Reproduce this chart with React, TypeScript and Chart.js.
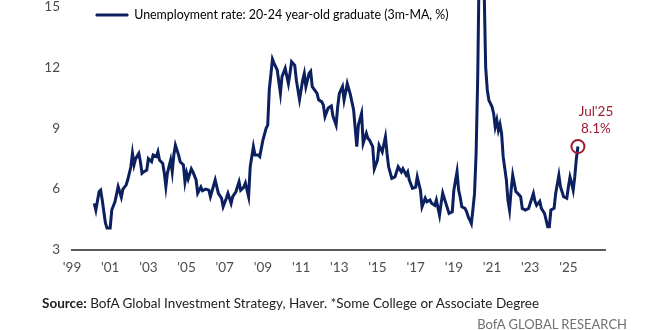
import React, { useEffect, useRef } from "react";
import { Chart, registerables } from "chart.js";

Chart.register(...registerables);

// ---------- data ----------
const months = [
  "2000-03","2000-04","2000-06","2000-07","2000-08","2000-10","2000-11",
  "2001-01","2001-02","2001-04","2001-06","2001-07","2001-08","2001-09","2001-11","2001-12",
  "2002-02","2002-03","2002-04","2002-05","2002-07","2002-08","2002-09","2002-10","2002-12",
  "2003-01","2003-03","2003-04","2003-06","2003-07","2003-08","2003-10","2003-11","2003-12",
  "2004-01","2004-03","2004-04","2004-05","2004-06","2004-08","2004-09","2004-11","2004-12",
  "2005-01","2005-02","2005-04","2005-05","2005-07","2005-08","2005-10","2005-11",
  "2006-01","2006-03","2006-04","2006-07","2006-09","2006-11","2006-12",
  "2007-02","2007-03","2007-05","2007-06","2007-08","2007-10","2007-11",
  "2008-01","2008-02","2008-04","2008-05","2008-07","2008-08","2008-10","2008-11",
  "2009-01","2009-03","2009-04","2009-05","2009-07","2009-08","2009-10","2009-12",
  "2010-01","2010-03","2010-05","2010-06","2010-07","2010-09","2010-10","2010-12",
  "2011-02","2011-03","2011-04","2011-06","2011-07","2011-08","2011-11","2011-12",
  "2012-02","2012-03","2012-04","2012-06","2012-08","2012-09","2012-11","2012-12",
  "2013-01","2013-03","2013-04","2013-06","2013-08","2013-10","2013-12",
  "2014-01","2014-03","2014-04","2014-06","2014-07","2014-08","2014-10","2014-11",
  "2015-01","2015-02","2015-04","2015-06","2015-07","2015-08","2015-10","2015-12",
  "2016-02","2016-04","2016-05","2016-07","2016-08","2016-09","2016-11",
  "2017-01","2017-02","2017-04","2017-05","2017-07","2017-08","2017-10","2017-11",
  "2018-01","2018-02","2018-04","2018-05","2018-06","2018-08","2018-10","2018-12",
  "2019-01","2019-03","2019-04","2019-05","2019-06","2019-08","2019-09","2019-10","2019-11","2019-12",
  "2020-01","2020-02","2020-03","2020-04","2020-05","2020-06","2020-07","2020-08","2020-09","2020-10","2020-11",
  "2021-01","2021-02","2021-03","2021-04","2021-05","2021-06","2021-07","2021-08","2021-10","2021-11","2021-12",
  "2022-01","2022-02","2022-04","2022-05","2022-07","2022-08","2022-10","2022-12",
  "2023-01","2023-03","2023-04","2023-05","2023-07","2023-08","2023-10","2023-12",
  "2024-01","2024-02","2024-04","2024-05","2024-07","2024-08","2024-10","2024-12",
  "2025-01","2025-02","2025-03","2025-04","2025-05","2025-06","2025-07",
];

const rates = [
  5.3, 4.97, 5.87, 5.95, 5.46, 4.33, 4.08,
  4.08, 4.97, 5.38, 6.12, 5.87, 5.6, 6.0, 6.2, 6.45,
  7.1, 7.76, 7.2, 7.5, 7.76, 7.35, 6.78, 6.85, 6.94,
  7.5, 7.35, 7.68, 7.6, 7.84, 7.43, 7.27, 6.8, 6.12,
  6.8, 7.43, 6.85, 7.68, 8.17, 7.68, 7.35, 7.19, 6.36,
  6.8, 6.5, 7.0, 6.85, 6.45, 5.8, 6.1, 5.92,
  6.0, 5.95, 5.63, 6.45, 5.79, 5.55, 5.13,
  5.55, 5.79, 5.3, 5.63, 5.87, 6.36, 5.95,
  6.1, 6.3, 5.63, 7.1, 8.09, 7.68, 7.68, 7.6,
  8.42, 9.0, 9.15, 10.9, 12.4, 12.2, 11.87, 10.72,
  11.54, 11.95, 11.2, 11.7, 12.28, 12.1, 11.37, 10.42,
  11.37, 11.7, 11.05, 11.7, 11.8, 11.05, 10.72, 10.4,
  10.3, 10.14, 9.57, 10.0, 10.1, 9.6, 9.16, 10.06,
  10.7, 11.05, 10.39, 11.2, 10.64, 9.9, 8.09,
  9.16, 9.73, 8.26, 8.75, 8.5, 8.42, 8.09, 7.0,
  7.43, 8.17, 7.84, 8.58, 7.76, 7.1, 6.53, 6.6,
  7.1, 6.85, 7.0, 6.7, 6.85, 6.45, 6.04,
  6.1, 6.6, 5.95, 5.13, 5.55, 5.38, 5.46, 5.3,
  5.2, 5.46, 4.72, 5.3, 5.8, 5.3, 4.8, 4.88,
  5.95, 6.86, 5.95, 5.6, 5.13, 5.05, 4.89, 4.64, 4.48, 4.3,
  5.0, 5.79, 7.8, 11.5, 17.5, 19.5, 19.0, 16.0, 12.0, 10.9, 10.39,
  10.06, 9.73, 9.07, 9.4, 8.9, 9.2, 8.75, 7.6, 6.45, 5.46, 4.97,
  5.95, 6.69, 5.87, 5.8, 5.63, 5.05, 4.97, 5.05,
  5.3, 5.79, 5.4, 5.2, 5.4, 5.05, 4.8, 4.15,
  4.15, 4.97, 5.05, 5.79, 6.69, 6.12, 5.63, 5.55,
  6.12, 6.6, 6.3, 5.95, 6.6, 7.5, 8.1,
];

const xTickYears = [1999, 2001, 2003, 2005, 2007, 2009, 2011, 2013, 2015, 2017, 2019, 2021, 2023, 2025];
const yTicks = [3, 6, 9, 12, 15];

const seriesLabel = "Unemployment rate: 20-24 year-old graduate (3m-MA, %)";
const calloutLines = ["Jul'25", "8.1%"];
const sourceBold = "Source:";
const sourceRest = " BofA Global Investment Strategy, Haver. *Some College or Associate Degree";
const brandText = "BofA GLOBAL RESEARCH";

// ---------- style ----------
const BASE_YEAR = 1999;
const FONT = "Lato, 'Open Sans', sans-serif";
const NAVY = "#0c1f5e";
const RED = "#9b1b30";
const TICK_COLOR = "#4d4d4d";
const LEGEND_SIZE = 12.4;
const LEGEND_PAD = 24;

const toIndex = (m: string) => {
  const [y, mo] = m.split("-").map(Number);
  return (y - BASE_YEAR) * 12 + (mo - 1);
};

const legendShift = {
  id: "legendShift",
  afterLayout(chart: any) {
    if (chart.legend) {
      chart.legend.left = chart.chartArea.left;
      chart.legend.top = 15 - LEGEND_PAD - LEGEND_SIZE / 2;
    }
  },
};

const callout = {
  id: "callout",
  afterDatasetsDraw(chart: any) {
    const meta = chart.getDatasetMeta(0);
    const pt = meta && meta.data && meta.data[0];
    if (!pt) return;
    const ctx = chart.ctx;
    ctx.save();
    ctx.fillStyle = RED;
    ctx.font = `13.5px ${FONT}`;
    ctx.textAlign = "center";
    ctx.textBaseline = "middle";
    ctx.fillText(calloutLines[0], pt.x + 18, pt.y - 35);
    ctx.fillText(calloutLines[1], pt.x + 18, pt.y - 18);
    ctx.restore();
  },
};

const noPad = (s: any) => {
  s.paddingTop = 0;
  s.paddingBottom = 0;
  s.paddingLeft = 0;
  s.paddingRight = 0;
};

export default function App() {
  const canvasRef = useRef<HTMLCanvasElement | null>(null);

  useEffect(() => {
    document.body.style.margin = "0";
    const canvas = canvasRef.current;
    if (!canvas) return;
    const points = months.map((m, i) => ({ x: toIndex(m), y: rates[i] }));
    const last = points[points.length - 1];

    const chart = new Chart(canvas, {
      type: "line",
      data: {
        datasets: [
          {
            label: "Latest",
            data: [last],
            showLine: false,
            pointRadius: 6.5,
            pointHoverRadius: 6.5,
            pointBorderWidth: 2,
            pointBorderColor: RED,
            pointBackgroundColor: "rgba(0,0,0,0)",
            order: 0,
          },
          {
            label: seriesLabel,
            data: points,
            borderColor: NAVY,
            backgroundColor: NAVY,
            borderWidth: 3,
            pointRadius: 0,
            tension: 0,
            order: 1,
          },
        ],
      },
      options: {
        animation: false,
        responsive: false,
        maintainAspectRatio: false,
        parsing: false as any,
        layout: { autoPadding: false, padding: { left: 0, right: 55, top: 0, bottom: 50 } },
        plugins: {
          tooltip: { enabled: false },
          legend: {
            position: "chartArea" as any,
            align: "start",
            labels: {
              boxWidth: 32,
              boxHeight: 2,
              padding: LEGEND_PAD,
              color: "#333",
              font: { family: FONT, size: LEGEND_SIZE },
              generateLabels: () => [
                {
                  text: seriesLabel,
                  fillStyle: NAVY,
                  strokeStyle: NAVY,
                  lineWidth: 1,
                  hidden: false,
                  datasetIndex: 1,
                } as any,
              ],
            },
          },
        },
        scales: {
          x: {
            type: "linear",
            min: 0,
            max: 335,
            grid: { display: false, drawTicks: false },
            border: { display: true, color: "#5a5a5a", width: 2 },
            ticks: {
              padding: 10,
              color: TICK_COLOR,
              font: { family: FONT, size: 13.5 },
              maxRotation: 0,
              autoSkip: false,
              callback: (v: any) =>
                "'" + String((BASE_YEAR + Math.round(Number(v) / 12)) % 100).padStart(2, "0"),
            },
            afterBuildTicks: (s: any) => {
              s.ticks = xTickYears.map((y) => ({ value: (y - BASE_YEAR) * 12 }));
            },
            afterFit: (s: any) => {
              s.height = 30;
              noPad(s);
            },
          },
          y: {
            type: "linear",
            min: 3,
            max: 15.32,
            grid: { display: false, drawTicks: false },
            border: { display: false },
            ticks: {
              padding: 12,
              color: TICK_COLOR,
              font: { family: FONT, size: 13.5 },
            },
            afterBuildTicks: (s: any) => {
              s.ticks = yTicks.map((v) => ({ value: v }));
            },
            afterFit: (s: any) => {
              s.width = 72;
              noPad(s);
            },
          },
        },
      },
      plugins: [legendShift, callout],
    });
    return () => chart.destroy();
  }, []);

  return (
    <div style={{ position: "fixed", left: 0, top: 0, width: 660, height: 330, background: "#fff", overflow: "hidden" }}>
      <canvas ref={canvasRef} width={660} height={330} style={{ position: "absolute", left: 0, top: 0 }} />
      <div
        style={{
          position: "absolute",
          left: 42,
          top: 295,
          fontFamily: FONT,
          fontSize: 13.5,
          lineHeight: "16px",
          color: "#222",
          whiteSpace: "nowrap",
        }}
      >
        <b>{sourceBold}</b>
        {sourceRest}
      </div>
      <div
        style={{
          position: "absolute",
          right: 33,
          top: 316,
          fontFamily: FONT,
          fontSize: 13,
          lineHeight: "16px",
          color: "#707070",
          whiteSpace: "nowrap",
        }}
      >
        {brandText}
      </div>
    </div>
  );
}
